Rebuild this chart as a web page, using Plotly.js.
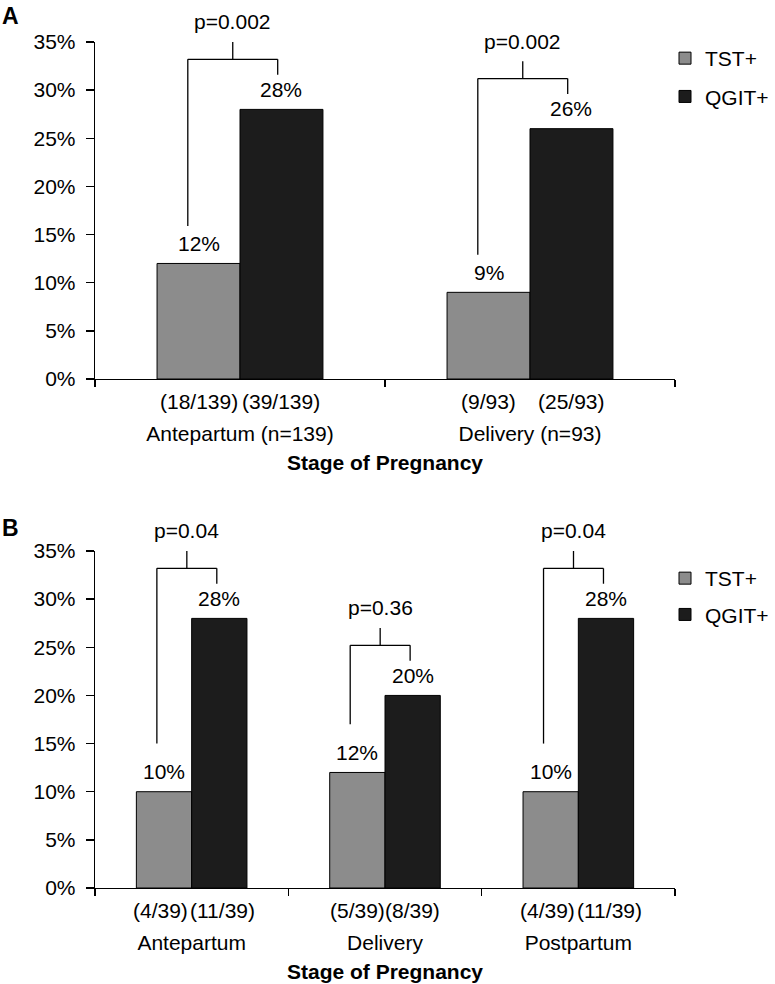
<!DOCTYPE html>
<html>
<head>
<meta charset="utf-8">
<script src="https://cdn.plot.ly/plotly-3.0.1.min.js"></script>
<style>html,body{margin:0;padding:0;background:#fff;}#chart{width:775px;height:984px;}</style>
</head>
<body>
<div id="chart"></div>
<script>
// ---------- Data ----------
const seriesNames = ['TST+', 'QGIT+'];

// Panel A
const categoriesA = ['Antepartum (n=139)', 'Delivery (n=93)'];
const tstA = [12, 9];
const qgitA = [28, 26];
const tstCountsA = ['(18/139)', '(9/93)'];
const qgitCountsA = ['(39/139)', '(25/93)'];
const pValuesA = ['p=0.002', 'p=0.002'];

// Panel B
const categoriesB = ['Antepartum', 'Delivery', 'Postpartum'];
const tstB = [10, 12, 10];
const qgitB = [28, 20, 28];
const tstCountsB = ['(4/39)', '(5/39)', '(4/39)'];
const qgitCountsB = ['(11/39)', '(8/39)', '(11/39)'];
const pValuesB = ['p=0.04', 'p=0.36', 'p=0.04'];

const yTickVals = [0, 5, 10, 15, 20, 25, 30, 35];
const yTickText = ['0%', '5%', '10%', '15%', '20%', '25%', '30%', '35%'];

// ---------- Styling ----------
const FONT = 'Liberation Sans, Arial, Helvetica, sans-serif';
const FS = 21;
const GRAY = '#8c8c8c';
const BLACK = '#1c1c1c';
const BARGAP = 0.428;
const HALF = (1 - BARGAP) / 4; // offset of each bar center from category center
const YMAX = 35;
const PLOT_W = 580; // px width of each plot area

const domX = [95 / 775, 675 / 775];
const domYA = [1 - 379 / 984, 1 - 42 / 984];
const domYB = [1 - 888 / 984, 1 - 551 / 984];

function toPaper(v, dom) { return dom[0] + (v / YMAX) * (dom[1] - dom[0]); }
// rough Arial width estimate (em) for count labels
function textW(s) {
  let w = 0;
  for (const ch of s) w += (ch === '(' || ch === ')') ? 0.333 : (ch === '/' ? 0.278 : 0.556);
  return w * FS;
}

const traces = [];
const shapes = [];
const annotations = [];
const txtFont = {family: FONT, size: FS, color: '#000'};

function panel(cats, tst, qgit, tstN, qgitN, pv, xa, ya, dom, legendId, legGap) {
  traces.push({
    type: 'bar', name: seriesNames[0], x: cats, y: tst, xaxis: xa, yaxis: ya,
    marker: {color: GRAY, line: {color: '#000', width: 1}},
    legend: legendId, legendgroup: legendId + 'a', hoverinfo: 'skip'
  });
  traces.push({
    type: 'bar', name: seriesNames[1], x: cats, y: qgit, xaxis: xa, yaxis: ya,
    marker: {color: BLACK, line: {color: '#000', width: 1}},
    legend: legendId, legendgroup: legendId + 'b', hoverinfo: 'skip'
  });
  const catPx = PLOT_W / cats.length;
  cats.forEach((c, i) => {
    const vals = [tst[i], qgit[i]];
    const counts = [tstN[i], qgitN[i]];
    // push the two count labels apart if they would overlap
    const overlap = (textW(counts[0]) + textW(counts[1])) / 2 - 2 * HALF * catPx + 1;
    const nudge = overlap > 0 ? overlap / 2 : 0;
    [-HALF, HALF].forEach((off, k) => {
      annotations.push({xref: xa, yref: ya, x: i + off, y: vals[k], yshift: 20,
        yanchor: 'middle', xanchor: 'center', showarrow: false, text: vals[k] + '%', font: txtFont});
      annotations.push({xref: xa, yref: ya, x: i + off, y: 0, yshift: -22,
        xshift: k === 0 ? -nudge : nudge,
        yanchor: 'middle', xanchor: 'center', showarrow: false, text: counts[k], font: txtFont});
    });
    // significance bracket
    const hi = Math.max(tst[i], qgit[i]);
    const h = hi + 5.2, top = h + 1.8;
    const L = i - 0.18, R = i + 0.13, M = (L + R) / 2;
    const ln = {color: '#000', width: 1.3};
    const seg = (x0, y0, x1, y1) => shapes.push({type: 'line', xref: xa, yref: 'paper',
      x0: x0, x1: x1, y0: toPaper(y0, dom), y1: toPaper(y1, dom), line: ln});
    seg(L, tst[i] + legGap, L, h);
    seg(L, h, R, h);
    seg(R, h, R, qgit[i] + 3.6);
    seg(M, h, M, top);
    annotations.push({xref: xa, yref: 'paper', x: M, y: toPaper(hi + 9.1, dom),
      yanchor: 'middle', xanchor: 'center', showarrow: false, text: pv[i], font: txtFont});
  });
}

panel(categoriesA, tstA, qgitA, tstCountsA, qgitCountsA, pValuesA, 'x', 'y', domYA, 'legend', 3.9);
panel(categoriesB, tstB, qgitB, tstCountsB, qgitCountsB, pValuesB, 'x2', 'y2', domYB, 'legend2', 5.0);

annotations.push({xref: 'paper', yref: 'paper', x: 10 / 775, y: 1 - 16 / 984, xanchor: 'center',
  yanchor: 'middle', showarrow: false, text: '<b>A</b>', font: {family: FONT, size: 23, color: '#000'}});
annotations.push({xref: 'paper', yref: 'paper', x: 10 / 775, y: 1 - 528 / 984, xanchor: 'center',
  yanchor: 'middle', showarrow: false, text: '<b>B</b>', font: {family: FONT, size: 23, color: '#000'}});

function xAxis(dom, anchor, n) {
  return {
    domain: dom, anchor: anchor, type: 'category', range: [-0.5, n - 0.5],
    showline: true, linecolor: '#000', linewidth: 1.3, ticks: 'outside', tickson: 'boundaries',
    ticklen: 7, tickwidth: 1.3, tickcolor: '#000', showgrid: false, zeroline: false,
    tickfont: txtFont, ticklabelstandoff: 35,
    title: {text: '<b>Stage of Pregnancy</b>', font: txtFont, standoff: 11},
    fixedrange: true
  };
}
function yAxis(dom, anchor) {
  return {
    domain: dom, anchor: anchor, range: [0, YMAX], tickmode: 'array',
    tickvals: yTickVals, ticktext: yTickText,
    showline: true, linecolor: '#000', linewidth: 1.3, ticks: 'outside', ticklen: 8,
    tickwidth: 1.3, tickcolor: '#000', showgrid: false, zeroline: false,
    tickfont: txtFont, ticklabelstandoff: 6, fixedrange: true
  };
}

const layout = {
  width: 775, height: 984,
  margin: {l: 0, r: 0, t: 0, b: 0},
  paper_bgcolor: '#fff', plot_bgcolor: '#fff',
  font: txtFont,
  barmode: 'group', bargap: BARGAP, bargroupgap: 0,
  xaxis: xAxis(domX, 'y', categoriesA.length), yaxis: yAxis(domYA, 'x'),
  xaxis2: xAxis(domX, 'y2', categoriesB.length), yaxis2: yAxis(domYB, 'x2'),
  showlegend: true,
  legend: {x: 665 / 775, y: 1 - 38 / 984, xanchor: 'left', yanchor: 'top',
    font: txtFont, tracegroupgap: 8, bgcolor: 'rgba(0,0,0,0)'},
  legend2: {x: 665 / 775, y: 1 - 558 / 984, xanchor: 'left', yanchor: 'top',
    font: txtFont, tracegroupgap: 6, bgcolor: 'rgba(0,0,0,0)'},
  shapes: shapes,
  annotations: annotations
};

Plotly.newPlot('chart', traces, layout, {displayModeBar: false, staticPlot: true});
</script>
</body>
</html>
